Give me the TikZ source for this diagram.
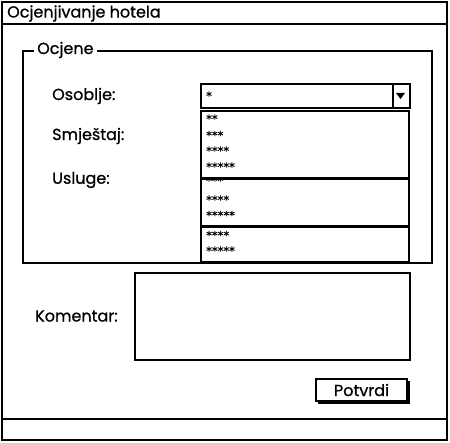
\documentclass[tikz,border=0pt]{standalone}
\usepackage{fontspec}
\setmainfont{Poppins}[FakeBold=0.8]
\newfontfamily\starfont{DejaVu Sans}[FakeBold=0.6]
\begin{document}
\begin{tikzpicture}[x=1pt,y=-1pt,
  win/.style={draw=black,line width=1.9pt},
  box/.style={draw=black,line width=1.7pt,fill=white},
  lbl/.style={anchor=west,inner sep=0pt,font=\fontsize{16}{18}\selectfont},
  star/.style={anchor=base west,inner sep=0pt,font=\starfont\fontsize{11.5}{11}\selectfont}]
\useasboundingbox (0,0) rectangle (450,443);
\fill[white] (0,0) rectangle (450,443);
% window
\draw[win] (2,2) rectangle (447,440);
\draw[win] (2,24) -- (447,24);
\draw[win] (2,419) -- (447,419);
\node[lbl] (title) at (7,13.5) {Ocjenjivanje hotela};
% group box
\draw[win] (23,51) rectangle (432,263);
\node[lbl,fill=white,inner xsep=3pt] (grp) at (34,50) {Ocjene};
\node[lbl] (l1) at (52,96) {Osoblje:};
\node[lbl] (l2) at (52,136) {Smještaj:};
\node[lbl] (l3) at (52,180) {Usluge:};
% combo
\draw[draw=black,line width=1.3pt,fill=white] (201,84) rectangle (410,108);
\draw[line width=1.3pt] (393,84) -- (393,108);
\fill (396,93) -- (405,93) -- (400.5,99) -- cycle;
\node[star] (c0) at (206,100) {*};
% dropdown 1
\draw[box] (201,111) rectangle (409,178);
\node[star] (a2) at (206,123) {**};
\node[star] (a3) at (206,139.5) {***};
\node[star] (a4) at (206,155) {****};
\node[star] (a5) at (206,171) {*****};
% dropdown 2
\draw[box] (201,179) rectangle (409,226);
\begin{scope}
\clip (201,180) rectangle (409,226);
\node[star] (b3) at (206,185) {***};
\end{scope}
\draw[draw=black,line width=1.7pt] (201,179) -- (409,179);
\node[star] (b4) at (206,204) {****};
\node[star] (b5) at (206,219.5) {*****};
% dropdown 3
\draw[box] (201,227) rectangle (409,262);
\node[star] (d4) at (206,239.5) {****};
\node[star] (d5) at (206,255) {*****};
% comment
\node[lbl] (km) at (35,316) {Komentar:};
\draw[draw=black,line width=1.6pt] (135,273) rectangle (410,360);
% button
\fill (318,381) rectangle (410,404);
\draw[draw=black,line width=1.2pt,fill=white] (316,379) rectangle (407,401);
\node[font=\fontsize{16}{18}\selectfont,inner sep=0pt] (btn) at (361.5,390) {Potvrdi};
\end{tikzpicture}
\end{document}
